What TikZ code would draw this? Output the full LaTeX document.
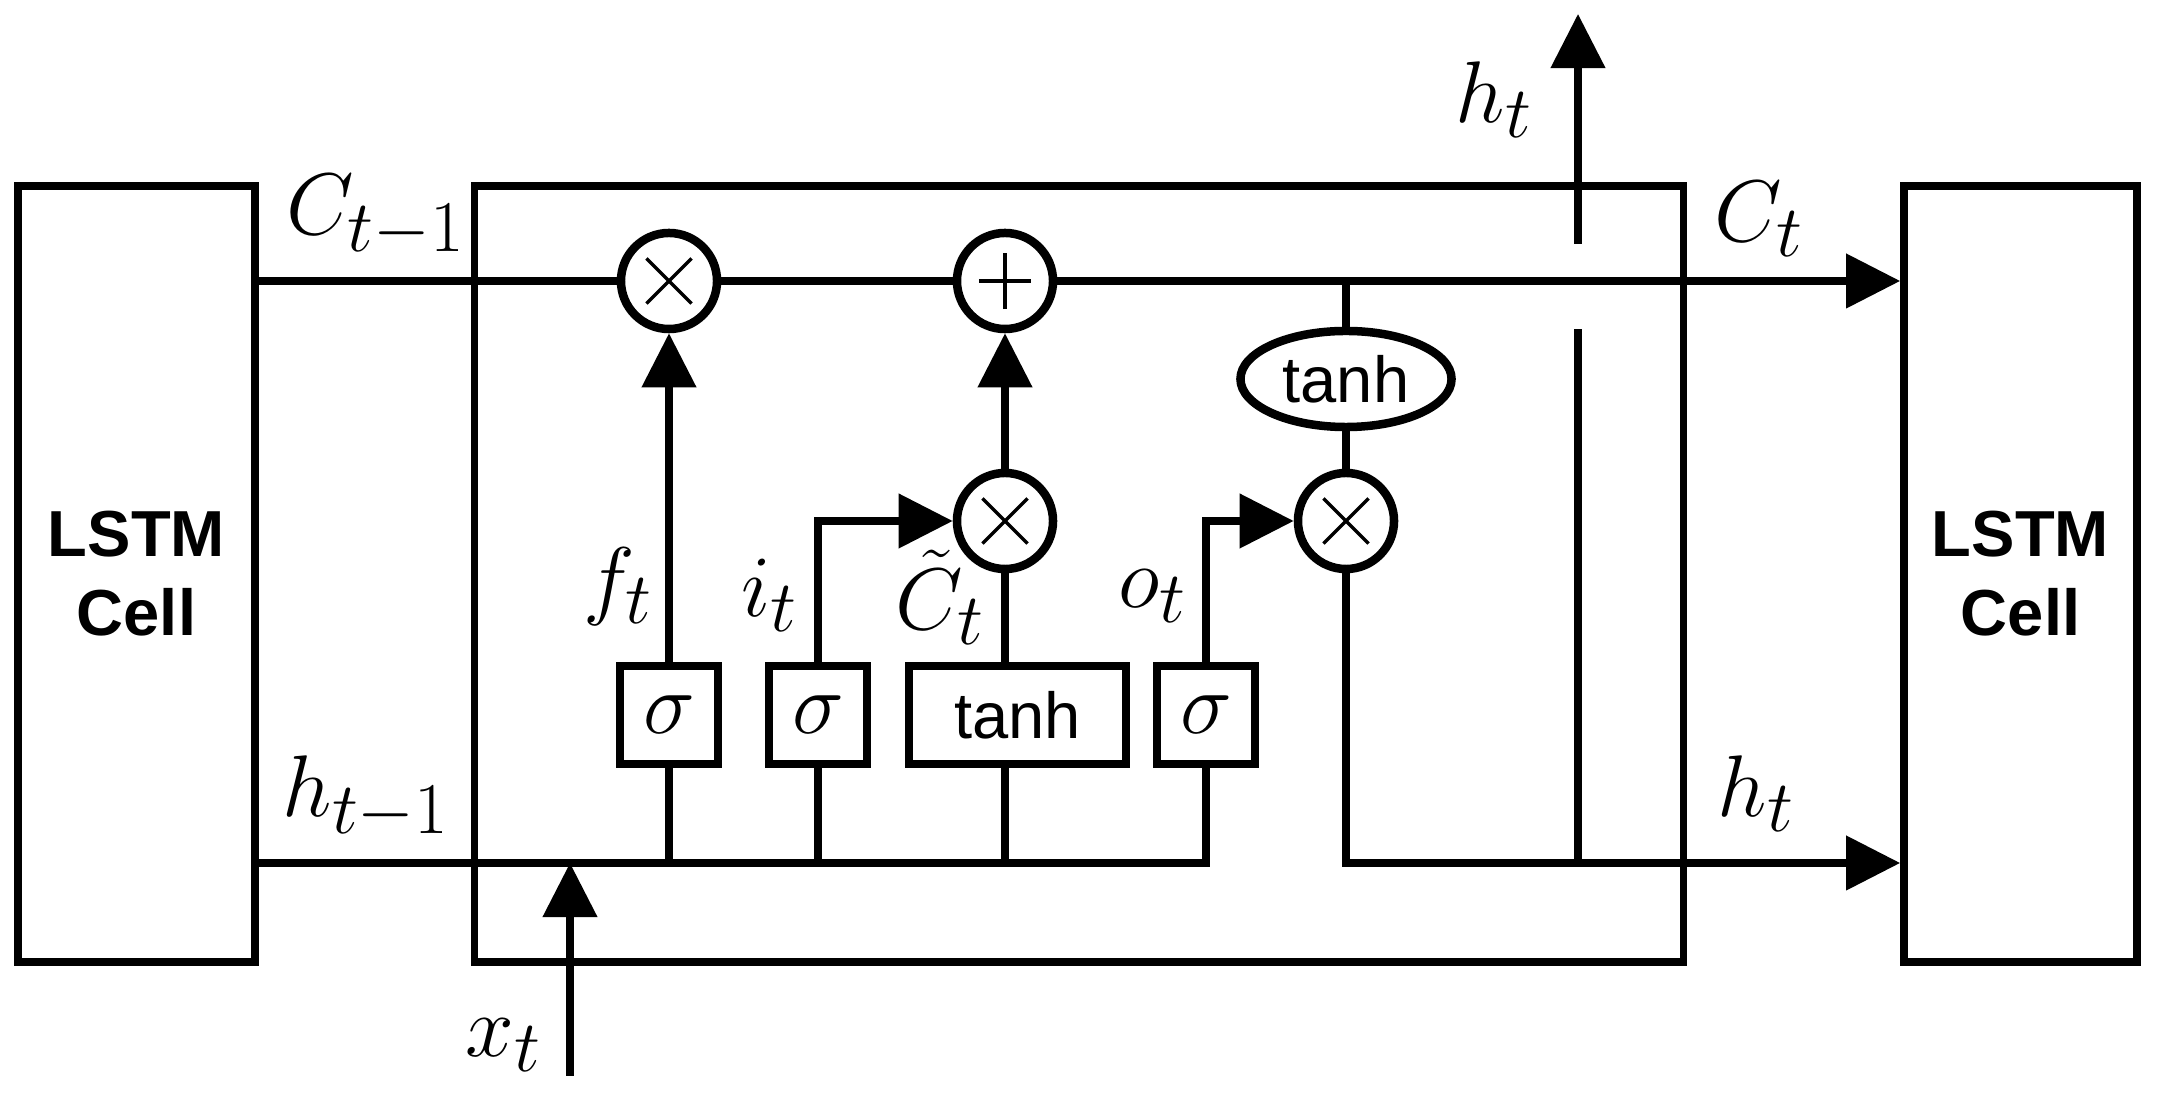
\documentclass[tikz,border=0pt]{standalone}
\usepackage{fontspec}
\newfontfamily\arialf{Liberation Sans}
\usetikzlibrary{arrows.meta,shapes.geometric}
\begin{document}
\begin{tikzpicture}[x=0.01cm,y=-0.01cm,
  ln/.style={line width=0.075cm},
  arr/.style={ln,-{Triangle[length=0.54cm,width=0.53cm]}},
  cellbox/.style={draw,line width=0.075cm,minimum width=#1,minimum height=7.76cm,inner sep=0,align=center,
     font=\arialf\bfseries\fontsize{18.5}{22.5}\selectfont},
  mainbox/.style={draw,line width=0.075cm,minimum width=12.08cm,minimum height=7.76cm,inner sep=0},
  gatebox/.style={draw,fill=white,line width=0.085cm,minimum width=#1,minimum height=0.98cm,inner sep=0,
     font=\fontsize{24.88}{30}\selectfont},
  sansfont/.style={font=\arialf\fontsize{18.5}{22}\selectfont},
  lab/.style={anchor=base west,inner sep=0,font=\fontsize{24.88}{30}\selectfont},
  mulx/.style={circle,draw,fill=white,line width=0.085cm,minimum size=0.96cm,inner sep=0,
     path picture={\draw[line width=0.035cm]
       ([shift={(-0.225cm,-0.225cm)}]path picture bounding box.center) -- ([shift={(0.225cm,0.225cm)}]path picture bounding box.center)
       ([shift={(-0.225cm,0.225cm)}]path picture bounding box.center) -- ([shift={(0.225cm,-0.225cm)}]path picture bounding box.center);}},
  plusx/.style={circle,draw,fill=white,line width=0.085cm,minimum size=0.96cm,inner sep=0,
     path picture={\draw[line width=0.035cm]
       ([shift={(0cm,-0.28cm)}]path picture bounding box.center) -- ([shift={(0cm,0.28cm)}]path picture bounding box.center)
       ([shift={(-0.26cm,0cm)}]path picture bounding box.center) -- ([shift={(0.26cm,0cm)}]path picture bounding box.center);}},
  tanhell/.style={ellipse,draw,fill=white,line width=0.085cm,minimum width=2.11cm,minimum height=0.96cm,inner sep=0,sansfont}
]
\useasboundingbox (0,0) rectangle (2160,1095);

% reference rows
\coordinate (yC) at (0,281);
\coordinate (yH) at (0,863);

% boxes
\node[cellbox=2.37cm] (L) at (136.5,574) {LSTM\\Cell};
\node[cellbox=2.33cm] (R) at (2020.5,574) {LSTM\\Cell};
\node[mainbox] (M) at (1079,574) {};

% operators
\node[mulx] (m1) at (669,281) {};
\node[plusx] (p1) at (1005,281) {};
\node[mulx] (m2) at (1005,521) {};
\node[mulx] (m3) at (1346,521) {};
\node[tanhell] (th) at (1346,379) {tanh};

% gate boxes
\node[gatebox=0.98cm] (s1) at (669,715) {$\sigma$};
\node[gatebox=0.98cm] (s2) at (818,715) {$\sigma$};
\node[gatebox=2.17cm] (tb) at (1017.5,715) {\arialf\fontsize{18.5}{22}\selectfont tanh};
\node[gatebox=0.98cm] (s4) at (1206,715) {$\sigma$};

% cell state line
\draw[ln] (L.east |- yC) -- (m1.west);
\draw[ln] (m1.east) -- (p1.west);
\draw[arr] (p1.east) -- (R.west |- yC);
\draw[ln] (th.north) -- (th.north |- yC);
\draw[ln] (m3.north) -- (th.south);

% hidden / input line
\draw[ln] (L.east |- yH) -| (s4.south);
\draw[arr] (s4.north) |- (m3.west);
\draw[ln] (s1.south) -- (s1.south |- yH);
\draw[ln] (s2.south) -- (s2.south |- yH);
\draw[ln] (m2 |- tb.south) -- (m2 |- yH);
\draw[arr] (s1.north) -- (m1.south);
\draw[arr] (s2.north) |- (m2.west);
\draw[ln] (m2 |- tb.north) -- (m2.south);
\draw[arr] (m2.north) -- (p1.south);

% x_t input
\coordinate (xb) at (570,1076);
\draw[arr] (xb) -- (xb |- yH);

% output
\draw[arr] (m3.south) |- (R.west |- yH);
\coordinate (gb) at (1578,329);
\coordinate (gt) at (1578,244);
\coordinate (htop) at (1578,14);
\draw[ln] (gb |- yH) -- (gb);
\draw[arr] (gt) -- (htop);

% labels
\node[lab] (lCp) at (286,235) {$C_{t-1}$};
\node[lab] (lhp) at (282,817) {$h_{t-1}$};
\node[lab] (lht) at (1455,123) {$h_t$};
\node[lab] (lCt) at (1714,242) {$C_t$};
\node[lab] (lhr) at (1717,817) {$h_t$};
\node[lab] (lx) at (465,1057) {$x_t$};
\node[lab] (lf) at (583,609) {$f_t$};
\node[lab] (li) at (741,617) {$i_t$};
\node[lab] (lc) at (895,630) {$\tilde{C}_t$};
\node[lab] (lo) at (1118,608) {$o_t$};
\end{tikzpicture}
\end{document}
